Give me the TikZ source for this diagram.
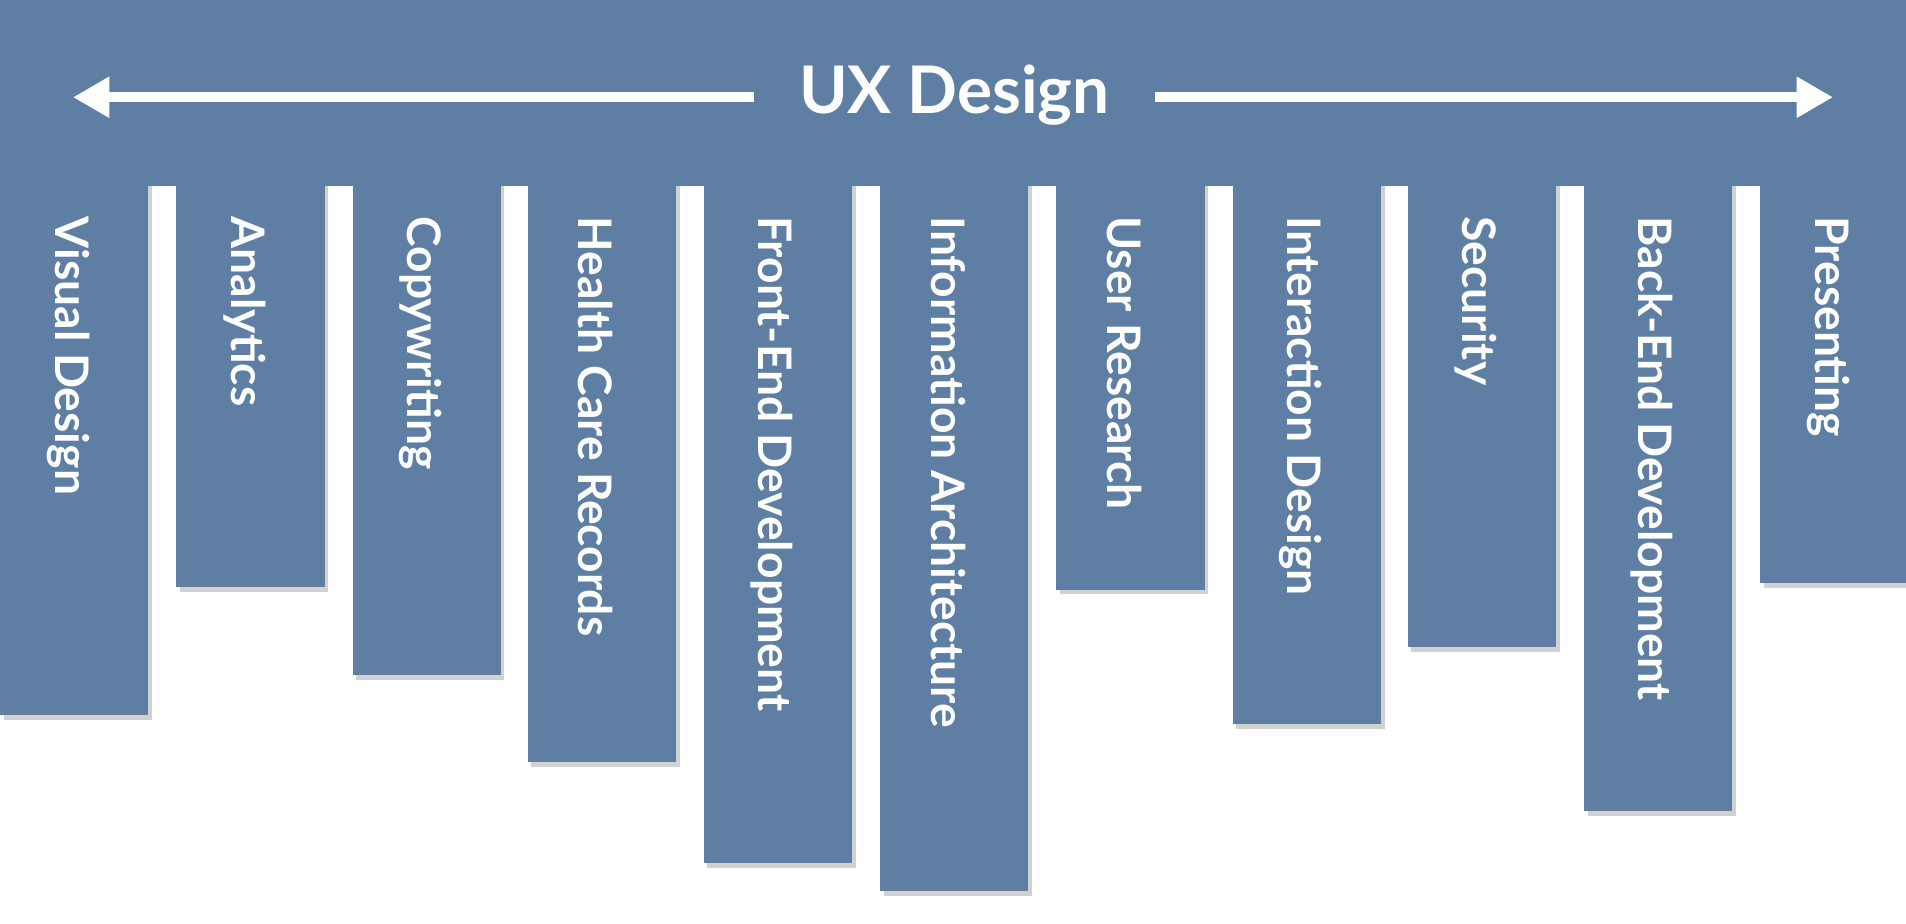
\documentclass[tikz,border=0pt]{standalone}
\usepackage{fontspec}
\setmainfont{Lato}
\usetikzlibrary{arrows.meta}
\definecolor{ux}{HTML}{5E7FA3}
\begin{document}
\begin{tikzpicture}[x=1pt,y=-1pt,
  col/.style={fill=ux},
  shad/.style={fill=black,opacity=0.18},
  lbl/.style={rotate=-90,anchor=west,text=white,font=\bfseries\fontsize{38}{40}\selectfont,inner sep=0pt},
  arr/.style={white,line width=8pt,-{Triangle[length=30pt,width=32pt]}}]
\useasboundingbox (0,0) rectangle (1568,760);
\fill[white] (0,0) rectangle (1568,760);
\foreach \l/\b/\t [count=\i] in {0/588/Visual Design,145/483/Analytics,290/555/Copywriting,434/627/Health Care Records,579/710/Front-End Development,724/733/Information Architecture,869/485/User Research,1014/596/Interaction Design,1158/532/Security,1303/667/Back-End Development,1448/480/Presenting}{
  \fill[shad] (\l+3,150) rectangle (\l+125,\b+4);
  \fill[col] (\l,150) rectangle (\l+122,\b);
  \node[lbl] (c\i) at (\l+56,178) {\t};
}
\fill[ux] (0,0) rectangle (1568,153);
\node[text=white,font=\bfseries\fontsize{54}{56}\selectfont] (title) at (785,78) {UX Design};
\coordinate (la) at (620,80);
\coordinate (lb) at (60,80);
\coordinate (ra) at (950,80);
\coordinate (rb) at (1508,80);
\draw[arr] (la) -- (lb);
\draw[arr] (ra) -- (rb);
\end{tikzpicture}
\end{document}
